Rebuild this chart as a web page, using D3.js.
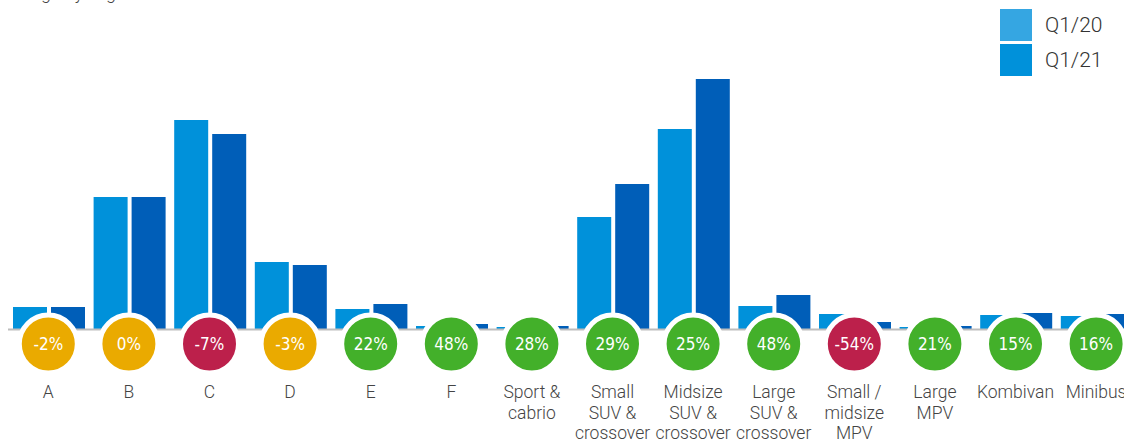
<!DOCTYPE html>
<html>
<head>
<meta charset="utf-8">
<script src="https://cdn.jsdelivr.net/npm/d3@7"></script>
<style>
    body { margin: 0; background: #fff; overflow: hidden; }
    svg { display: block; }
    .catLabel { font-family: Roboto, "Liberation Sans", sans-serif; font-weight: 300; font-size: 17.5px; fill: #444; }
    .legendLabel { font-family: Roboto, "Liberation Sans", sans-serif; font-weight: 300; font-size: 21px; fill: #333; }
    .pctLabel { font-family: "Liberation Sans Narrow", "DejaVu Sans Condensed", sans-serif; font-size: 17px; fill: #fff; }
    .title { font-family: Roboto, "Liberation Sans", sans-serif; font-weight: 300; font-size: 18px; fill: #444; }
</style>
</head>
<body>
<script>
//segments along the x axis, each label split into lines
var categories = ["A", "B", "C", "D", "E", "F", "Sport & cabrio", "Small SUV & crossover",
    "Midsize SUV & crossover", "Large SUV & crossover", "Small / midsize MPV", "Large MPV", "Kombivan", "Minibus"];
var labelLines = [["A"], ["B"], ["C"], ["D"], ["E"], ["F"], ["Sport &", "cabrio"],
    ["Small", "SUV &", "crossover"], ["Midsize", "SUV &", "crossover"], ["Large", "SUV &", "crossover"],
    ["Small /", "midsize", "MPV"], ["Large", "MPV"], ["Kombivan"], ["Minibus"]];

//registrations (arbitrary units)
var q120 = [22, 132, 209, 67, 20, 3, 2, 112, 200, 23, 15, 2, 14, 13];
var q121 = [22, 132, 195, 64, 25, 5, 3, 145, 250, 34, 7, 3, 16, 15];

//year on year change shown in the circles
var change = [-2, 0, -7, -3, 22, 48, 28, 29, 25, 48, -54, 21, 15, 16];

var seriesNames = ["Q1/20", "Q1/21"];

(function(){
    var width = 1124, height = 441;
    var baseline = 329;

    var svg = d3.select("body").append("svg")
        .attr("width", width)
        .attr("height", height);

    //title sits mostly above the frame, only descenders show
    svg.append("text")
        .attr("class", "title")
        .attr("x", 0)
        .attr("y", -1)
        .text("Change by segment");

    //outer band for each segment, inner band for the two quarters
    var x0 = d3.scaleBand()
        .domain(categories)
        .range([8, 8 + 80.6 * categories.length]);

    var x1 = d3.scaleBand()
        .domain(seriesNames)
        .range([5, x0.bandwidth() - 3.6])
        .paddingInner(4 / 38);

    var y = d3.scaleLinear()
        .domain([0, 250])
        .range([baseline, baseline - 250]);

    var barColors = d3.scaleOrdinal()
        .domain(seriesNames)
        .range(["#0091DA", "#005EB8"]);

    var rows = categories.map(function(c, i){
        return { cat: c, values: [q120[i], q121[i]], pct: change[i], lines: labelLines[i] };
    });

    //bars
    var groups = svg.selectAll(".seg")
        .data(rows)
        .enter()
        .append("g")
        .attr("class", "seg")
        .attr("transform", function(d){ return "translate(" + x0(d.cat) + ",0)"; });

    groups.selectAll("rect")
        .data(function(d){
            return seriesNames.map(function(s, k){ return { key: s, value: d.values[k] }; });
        })
        .enter()
        .append("rect")
        .attr("x", function(d){ return x1(d.key); })
        .attr("width", x1.bandwidth())
        .attr("y", function(d){ return y(d.value); })
        .attr("height", function(d){ return baseline - y(d.value); })
        .style("fill", function(d){ return barColors(d.key); });

    //baseline
    svg.append("line")
        .attr("x1", 8)
        .attr("x2", width)
        .attr("y1", baseline + 0.5)
        .attr("y2", baseline + 0.5)
        .style("stroke", "#bdbdbd")
        .style("stroke-width", 2);

    //change circles
    function pctColor(p){
        if (p > 0) return "#43B02A";
        if (p <= -5) return "#BC204B";
        return "#EAAA00";
    }

    var cx = function(d){ return x0(d.cat) + x0.bandwidth() / 2; };

    svg.selectAll(".pctCircle")
        .data(rows)
        .enter()
        .append("circle")
        .attr("class", "pctCircle")
        .attr("cx", cx)
        .attr("cy", 344)
        .attr("r", 29)
        .style("fill", function(d){ return pctColor(d.pct); })
        .style("stroke", "#fff")
        .style("stroke-width", 5);

    svg.selectAll(".pctLabel")
        .data(rows)
        .enter()
        .append("text")
        .attr("class", "pctLabel")
        .attr("x", cx)
        .attr("y", 350)
        .attr("text-anchor", "middle")
        .text(function(d){ return d.pct + "%"; });

    //category labels
    var labels = svg.selectAll(".catLabel")
        .data(rows)
        .enter()
        .append("text")
        .attr("class", "catLabel")
        .attr("text-anchor", "middle");

    labels.selectAll("tspan")
        .data(function(d){ return d.lines.map(function(l){ return { text: l, x: cx(d) }; }); })
        .enter()
        .append("tspan")
        .attr("x", function(d){ return d.x; })
        .attr("y", function(d, i){ return 398 + i * 20.7; })
        .text(function(d){ return d.text; });

    //legend
    var legendColors = ["#35A6E2", "#0091DA"];
    var legend = svg.selectAll(".legendItem")
        .data(seriesNames)
        .enter()
        .append("g")
        .attr("class", "legendItem")
        .attr("transform", function(d, i){ return "translate(1000," + (9 + i * 35) + ")"; });

    legend.append("rect")
        .attr("width", 32)
        .attr("height", 32)
        .style("fill", function(d, i){ return legendColors[i]; });

    legend.append("text")
        .attr("class", "legendLabel")
        .attr("x", 45)
        .attr("y", 22.5)
        .text(function(d){ return d; });
})();
</script>
</body>
</html>
